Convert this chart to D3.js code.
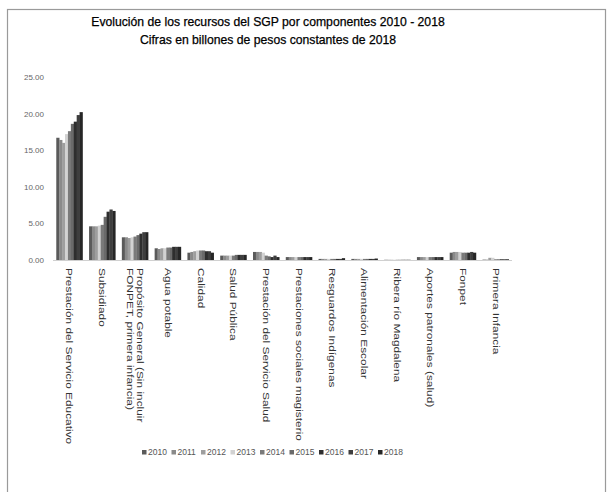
<!DOCTYPE html>
<html>
<head>
<meta charset="utf-8">
<script src="https://cdn.jsdelivr.net/npm/d3@7"></script>
<style>
  html, body { margin: 0; padding: 0; background: #fff; }
  svg { display: block; font-family: "Liberation Sans", Arial, sans-serif; }
</style>
</head>
<body>
<svg id="chart" width="612" height="492"></svg>
<script>
// Components of the SGP (Sistema General de Participaciones)
const categories = [
  ["Prestación del Servicio Educativo"],
  ["Subsidiado"],
  ["Propósito General (Sin incluir", "FONPET, primera infancia)"],
  ["Agua potable"],
  ["Calidad"],
  ["Salud Pública"],
  ["Prestación del Servicio Salud"],
  ["Prestaciones sociales magisterio"],
  ["Resguardos Indígenas"],
  ["Alimentación Escolar"],
  ["Ribera río Magdalena"],
  ["Aportes patronales (salud)"],
  ["Fonpet"],
  ["Primera Infancia"]
];

const years = ["2010", "2011", "2012", "2013", "2014", "2015", "2016", "2017", "2018"];

// Billions of constant 2018 pesos, one array per year, in category order
const v2010 = [16.7, 4.6, 3.1, 1.6, 1.0, 0.6, 1.1, 0.4, 0.15, 0.15, 0.03, 0.4, 1.0, 0.05];
const v2011 = [16.4, 4.6, 3.1, 1.5, 1.1, 0.6, 1.1, 0.4, 0.15, 0.15, 0.03, 0.4, 1.1, 0.05];
const v2012 = [16.0, 4.6, 3.0, 1.6, 1.2, 0.6, 1.1, 0.4, 0.15, 0.15, 0.03, 0.4, 1.1, 0.3];
const v2013 = [17.2, 4.7, 3.1, 1.6, 1.3, 0.6, 1.0, 0.4, 0.15, 0.15, 0.03, 0.4, 1.1, 0.3];
const v2014 = [17.6, 4.8, 3.2, 1.7, 1.3, 0.6, 0.6, 0.4, 0.15, 0.15, 0.03, 0.4, 1.0, 0.1];
const v2015 = [18.6, 5.9, 3.4, 1.7, 1.3, 0.7, 0.5, 0.4, 0.15, 0.15, 0.03, 0.4, 1.0, 0.1];
const v2016 = [18.9, 6.6, 3.6, 1.8, 1.2, 0.7, 0.4, 0.4, 0.15, 0.15, 0.03, 0.4, 1.0, 0.1];
const v2017 = [19.8, 6.9, 3.8, 1.8, 1.2, 0.7, 0.6, 0.4, 0.15, 0.15, 0.03, 0.4, 1.1, 0.1];
const v2018 = [20.2, 6.7, 3.8, 1.8, 1.0, 0.7, 0.4, 0.4, 0.25, 0.2, 0.03, 0.4, 1.0, 0.1];

const series = [v2010, v2011, v2012, v2013, v2014, v2015, v2016, v2017, v2018];
const yTicks = [0, 5, 10, 15, 20, 25];

const shades = ["#5a5a5a", "#8a8a8a", "#9e9e9e", "#d2d2d2", "#7a7a7a", "#6a6a6a", "#2e2e2e", "#3e3e3e", "#262626"];

const svg = d3.select("#chart");

// Outer frame
svg.append("rect")
  .attr("x", 7.5).attr("y", 9.5)
  .attr("width", 598).attr("height", 490)
  .attr("fill", "none").attr("stroke", "#9a9a9a").attr("stroke-width", 1.2);

// Title
const title = svg.append("text")
  .attr("text-anchor", "middle")
  .attr("fill", "#000")
  .attr("font-size", 12.2)
  .attr("stroke", "#000").attr("stroke-width", 0.25);
title.append("tspan").attr("x", 268).attr("y", 26)
  .text("Evolución de los recursos del SGP por componentes 2010 - 2018");
title.append("tspan").attr("x", 268).attr("y", 44)
  .text("Cifras en billones de pesos constantes de 2018");

const x0 = d3.scaleBand()
  .domain(d3.range(categories.length))
  .range([53, 512])
  .paddingInner(0.2)
  .paddingOuter(0.1);

const x1 = d3.scaleBand()
  .domain(d3.range(years.length))
  .range([0, x0.bandwidth()]);

const y = d3.scaleLinear().domain([0, 25]).range([260, 77]);

// Bars
const groups = svg.append("g").selectAll("g")
  .data(categories.map((c, i) => i))
  .join("g")
  .attr("transform", i => `translate(${x0(i)},0)`);

groups.selectAll("rect")
  .data(i => series.map((s, k) => ({ k, v: s[i] })))
  .join("rect")
  .attr("x", d => x1(d.k))
  .attr("width", x1.bandwidth() + 0.3)
  .attr("y", d => y(d.v))
  .attr("height", d => y(0) - y(d.v))
  .attr("fill", d => shades[d.k]);

// Y axis (labels only)
const yAxis = d3.axisLeft(y)
  .tickValues(yTicks)
  .tickFormat(d3.format(".2f"))
  .tickSize(0)
  .tickPadding(6);
const ya = svg.append("g").attr("transform", "translate(50,0)").call(yAxis);
ya.select(".domain").remove();
ya.selectAll("text").attr("font-size", 8).attr("fill", "#666")
  .attr("font-family", "'Liberation Sans', Arial, sans-serif");

// X baseline
svg.append("line")
  .attr("x1", 53).attr("x2", 512)
  .attr("y1", y(0) + 0.5).attr("y2", y(0) + 0.5)
  .attr("stroke", "#d0d0d0").attr("stroke-width", 1);

// Category labels, rotated to read top to bottom, narrow and elongated
const labels = svg.append("g").selectAll("text")
  .data(categories.map((c, i) => ({ c, i })))
  .join("text")
  .attr("transform", d => `translate(${x0(d.i) + x0.bandwidth() / 2},268) rotate(90) scale(1.25,1)`)
  .attr("font-size", 9.5)
  .attr("fill", "#333")
  .attr("text-anchor", "start");
labels.each(function (d) {
  const t = d3.select(this);
  const n = d.c.length;
  d.c.forEach((line, j) => {
    t.append("tspan")
      .attr("x", 0)
      .attr("y", (j - (n - 1) / 2) * 9.5 + 3)
      .text(line);
  });
});

// Legend
const legend = svg.append("g").attr("transform", "translate(142,455)");
const item = legend.selectAll("g")
  .data(years.map((yr, k) => ({ yr, k })))
  .join("g")
  .attr("transform", d => `translate(${d.k * 29.5},0)`);
item.append("rect")
  .attr("x", 0).attr("y", -5)
  .attr("width", 4.5).attr("height", 4.5)
  .attr("fill", d => shades[d.k]);
item.append("text")
  .attr("x", 6).attr("y", 0)
  .attr("font-size", 8.5)
  .attr("fill", "#555")
  .text(d => d.yr);
</script>
</body>
</html>
